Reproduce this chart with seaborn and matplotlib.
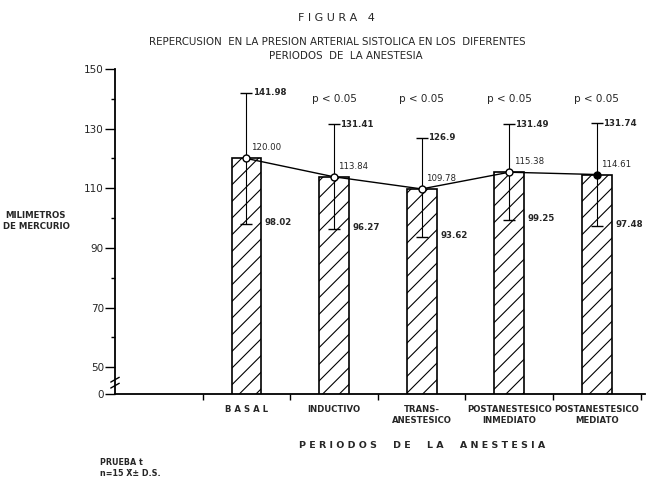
import numpy as np
import pandas as pd
import matplotlib
matplotlib.use("Agg")
import matplotlib.pyplot as plt
import matplotlib.transforms as mtransforms
import seaborn as sns

# ---- data ----
categories = ["BASAL", "INDUCTIVO", "TRANS-\nANESTESICO",
              "POSTANESTESICO\nINMEDIATO", "POSTANESTESICO\nMEDIATO"]
cat_labels = ["B A S A L", "INDUCTIVO", "TRANS-\nANESTESICO",
              "POSTANESTESICO\nINMEDIATO", "POSTANESTESICO\nMEDIATO"]
means = [120.00, 113.84, 109.78, 115.38, 114.61]
upper = [141.98, 131.41, 126.9, 131.49, 131.74]
lower = [98.02, 96.27, 93.62, 99.25, 97.48]
mean_labels = ["120.00", "113.84", "109.78", "115.38", "114.61"]
upper_labels = ["141.98", "131.41", "126.9", "131.49", "131.74"]
lower_labels = ["98.02", "96.27", "93.62", "99.25", "97.48"]
p_labels = ["", "p < 0.05", "p < 0.05", "p < 0.05", "p < 0.05"]
ytick_vals = [41, 50, 70, 90, 110, 130, 150]
ytick_labels = ["0", "50", "70", "90", "110", "130", "150"]
yminor_vals = [60, 80, 100, 120, 140]

sns.set_style("white")
plt.rcParams["font.family"] = ["DejaVu Sans"]
plt.rcParams["hatch.linewidth"] = 0.8

W, H = 647, 482
fig = plt.figure(figsize=(W / 100, H / 100), dpi=100)
ax = fig.add_axes([115 / W, 1 - 394 / H, (645 - 115) / W, (394 - 69) / H])

df = pd.DataFrame({"periodo": categories, "media": means})
sns.barplot(data=df, x="periodo", y="media", ax=ax, color="white",
            edgecolor="black", linewidth=1.2, width=0.34, hatch="//",
            errorbar=None, zorder=2)
for p in ax.patches:
    p.set_facecolor("white")
    p.set_edgecolor("black")
    p.set_hatch("//")

xs = np.arange(len(categories))
m = np.array(means)
lo = np.array(lower)
up = np.array(upper)

ax.errorbar(xs, m, yerr=[m - lo, up - m], fmt="none", ecolor="black",
            elinewidth=0.8, capsize=4, capthick=1.0, zorder=3)
sns.lineplot(x=xs, y=m, ax=ax, color="black", linewidth=1.0, zorder=4)
face = ["white", "white", "white", "white", "black"]
for x, y, fc in zip(xs, m, face):
    ax.plot([x], [y], marker="o", markersize=5, markerfacecolor=fc,
            markeredgecolor="black", markeredgewidth=1.0, zorder=5)

# value labels
fs_val = 6.2
for i in range(len(xs)):
    ax.text(xs[i] + 0.07, up[i], upper_labels[i], fontsize=fs_val,
            fontweight="bold", va="center", ha="left")
    ax.text(xs[i] + 0.05, m[i] + 2.0, mean_labels[i], fontsize=fs_val,
            va="bottom", ha="left")
    ax.text(xs[i] + 0.21, lo[i] + 0.5, lower_labels[i], fontsize=fs_val,
            fontweight="bold", va="center", ha="left")
    if p_labels[i]:
        ax.text(xs[i], 140, p_labels[i], fontsize=7.5, ha="center",
                va="center")

# axes styling
ax.set_xlim(-1.5, 4.55)
ax.set_ylim(41, 150)
for s in ["top", "right"]:
    ax.spines[s].set_visible(False)
for s in ["left", "bottom"]:
    ax.spines[s].set_linewidth(1.3)
    ax.spines[s].set_color("black")

ax.set_yticks(ytick_vals)
ax.set_yticklabels(ytick_labels, fontsize=7.5)
ax.set_yticks(yminor_vals, minor=True)
ax.tick_params(axis="y", which="major", direction="out", length=7,
               width=1.0, color="black", left=True, pad=1)
ax.tick_params(axis="y", which="minor", direction="out", length=3,
               width=1.0, color="black", left=True)

bounds = np.arange(-0.5, 5.0, 1.0)
ax.set_xticks(bounds)
ax.set_xticklabels([""] * len(bounds))
ax.set_xticks(xs, minor=True)
ax.set_xticklabels(cat_labels, minor=True, fontsize=6.1, fontweight="bold",
                   linespacing=1.25)
ax.tick_params(axis="x", which="major", direction="out", length=4,
               width=1.0, color="black", bottom=True)
ax.tick_params(axis="x", which="minor", length=0, pad=8)
ax.set_xlabel("")
ax.set_ylabel("")

# axis break mark
trans = mtransforms.blended_transform_factory(ax.transAxes, ax.transData)
for yy in (43.0, 45.0):
    ax.plot([-0.008, 0.008], [yy, yy + 1.6], transform=trans, color="black",
            lw=1.0, clip_on=False)

# texts
fig.text(336 / W, 1 - 18 / H, "F I G U R A   4", ha="center", va="center",
         fontsize=8)
fig.text(337 / W, 1 - 42 / H,
         "REPERCUSION  EN LA PRESION ARTERIAL SISTOLICA EN LOS  DIFERENTES",
         ha="center", va="center", fontsize=7.4)
fig.text(346 / W, 1 - 56 / H, "PERIODOS  DE  LA ANESTESIA", ha="center",
         va="center", fontsize=7.4)
fig.text(36 / W, 1 - 221 / H, "MILIMETROS\nDE MERCURIO", ha="center",
         va="center", fontsize=6.2, fontweight="bold", linespacing=1.3)
fig.text(422 / W, 1 - 446 / H,
         "P E R I O D O S     D E     L A     A N E S T E S I A",
         ha="center", va="center", fontsize=6.8, fontweight="bold")
fig.text(100 / W, 1 - 468 / H, "PRUEBA t\nn=15 X\u0304\u00b1 D.S.", ha="left",
         va="center", fontsize=5.8, fontweight="bold", linespacing=1.3)

fig.savefig("out.png", dpi=100)
